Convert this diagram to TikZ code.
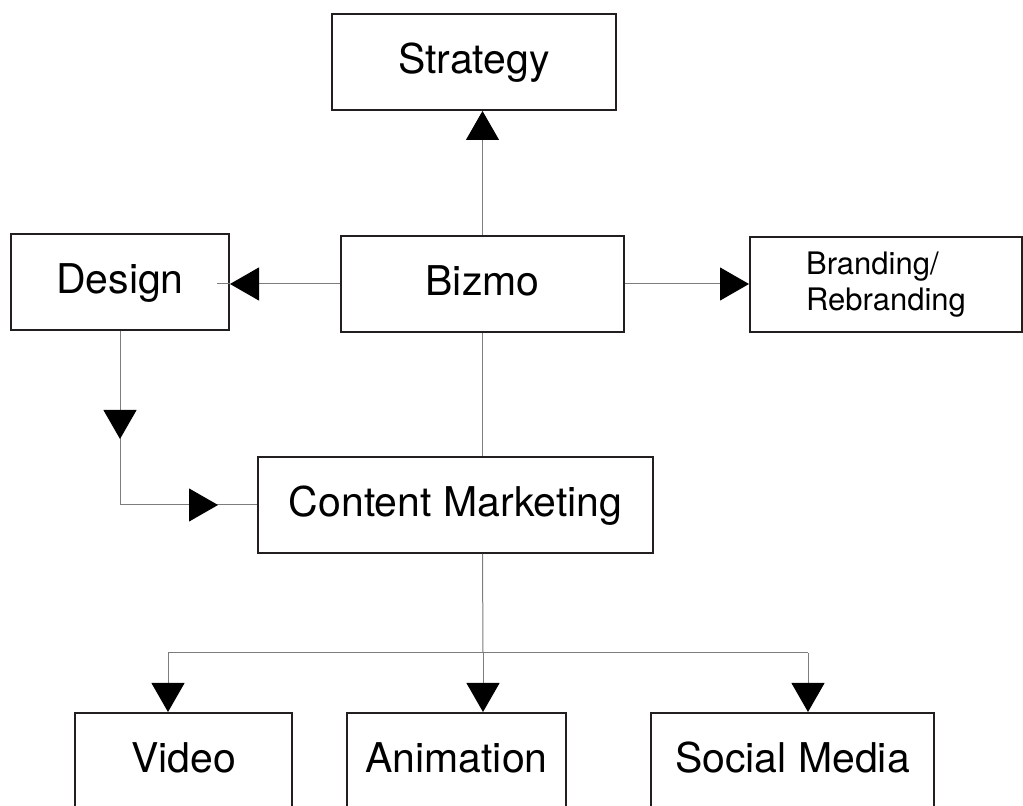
\documentclass[tikz,border=0pt]{standalone}
\usepackage{fontspec}
\setmainfont{TeX Gyre Heros}
\usetikzlibrary{arrows.meta, decorations.markings}

\definecolor{boxline}{RGB}{35,31,32}
\definecolor{linkgray}{RGB}{125,125,125}

\tikzset{
  box/.style={draw=boxline, line width=1pt, minimum height=48pt, inner sep=0pt,
    font=\fontsize{20.5}{24}\selectfont},
  capline/.style={text height=11.3pt, text depth=0pt},
  link/.style={draw=linkgray, line width=0.5pt},
  tri/.style={-{Triangle[length=14.5pt, width=16.5pt, color=black]}},
  twotips/.style 2 args={postaction={decorate}, decoration={markings,
    mark=at position #1 with {\arrow{Triangle[length=14.5pt, width=16.5pt, color=black]}},
    mark=at position #2 with {\arrow{Triangle[length=14.5pt, width=16.5pt, color=black]}}}}
}

\begin{document}
\begin{tikzpicture}[x=0.5pt, y=-0.5pt]
  \path[use as bounding box, clip] (0,0) rectangle (1023,806);

% boxes
\node[box, capline, minimum width=142pt] (strategy) at (474,62) {Strategy};
\node[box, capline, minimum width=141.5pt] (bizmo) at (482.5,284) {Bizmo};
\node[box, capline, minimum width=109pt] (design) at (120,282) {Design};
\node[box, minimum width=136pt, minimum height=47.5pt, align=left,
  font=\fontsize{15.5}{18}\selectfont] (branding) at (886,284.5) {Branding/\\Rebranding};
\node[box, capline, minimum width=197.5pt] (cm) at (455.5,505) {Content Marketing};
\node[box, capline, minimum width=108.5pt] (video) at (183.5,761) {Video};
\node[box, capline, minimum width=109.5pt] (animation) at (456.5,761) {Animation};
\node[box, capline, minimum width=141.5pt] (social) at (792.5,761) {Social Media};

% connectors from Bizmo
\draw[link, tri] (bizmo.north) -- (bizmo.north |- strategy.south);
\draw[link, tri] (bizmo.west) -- (bizmo.west -| design.east);
\draw[link] (bizmo.west -| design.east) -- ++(-13,0);
\draw[link, tri] (bizmo.east) -- (bizmo.east -| branding.west);
\draw[link] (bizmo.south) -- (bizmo.south |- cm.north);

% Design to Content Marketing
\coordinate (dbend) at (design.south |- cm.west);
\draw[link, twotips={54pt}{136pt}] (design.south) -- (dbend) -- (cm.west);

% Content Marketing to the three channels
\coordinate (hub) at (483,653);
\coordinate (vleft) at (168,653);
\coordinate (vright) at (808,653);
\draw[link] (bizmo.south |- cm.south) -- (hub);
\draw[link] (vleft) -- (vright);
\draw[link, tri] (vleft) -- (vleft |- video.north);
\draw[link, tri] (hub) -- (hub |- animation.north);
\draw[link, tri] (vright) -- (vright |- social.north);

\end{tikzpicture}
\end{document}
